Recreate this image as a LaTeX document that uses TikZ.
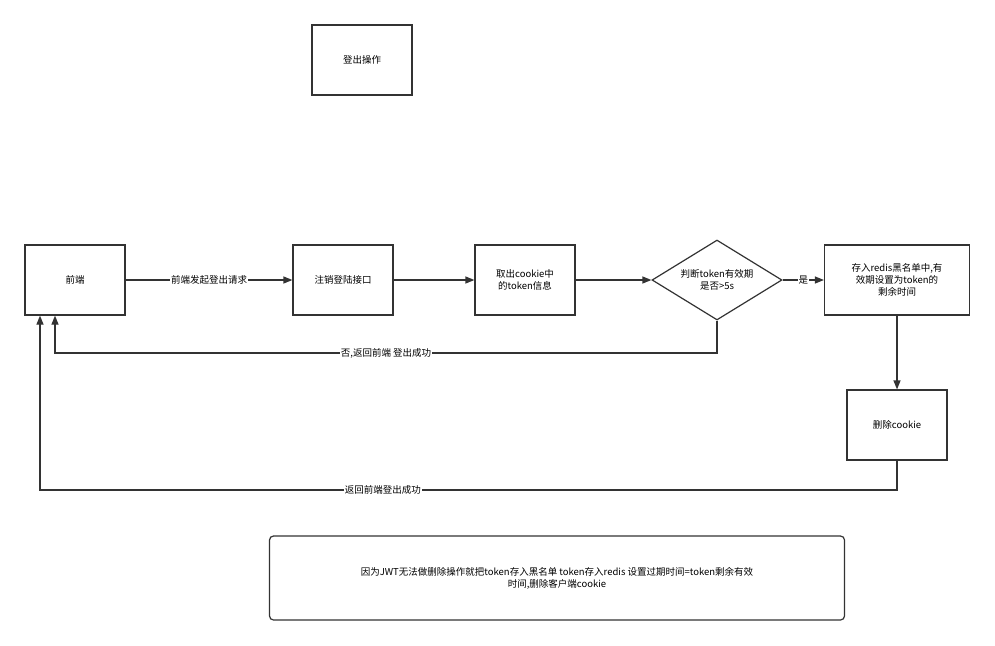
\documentclass[tikz,border=0pt]{standalone}
\usepackage{fontspec}
\setmainfont{Noto Sans CJK SC}
\usetikzlibrary{shapes.geometric,arrows.meta}
\begin{document}
\begin{tikzpicture}[x=1pt,y=-1pt,font=\fontsize{9.5}{12}\selectfont,
  box/.style={draw=black!80,line width=1.2pt,minimum width=100pt,minimum height=70pt,align=center},
  conn/.style={draw=black!80,line width=1.2pt,-{Triangle[length=9pt,width=7pt]}},
  lbl/.style={fill=white,inner sep=1pt}]
\useasboundingbox[fill=white] (0,0) rectangle (995,645);
\node[box] (logout) at (362,60) {登出操作};
\node[box] (fe) at (75,280) {前端};
\node[box] (api) at (343,280) {注销登陆接口};
\node[box] (get) at (525,280) {取出cookie中\\的token信息};
\node[draw=black!80,line width=1.2pt,diamond,aspect=1.625,minimum width=130pt,minimum height=80pt,inner sep=0pt,align=center] (dec) at (717,280) {判断token有效期\\是否>5s};
\node[box,minimum width=145pt] (store) at (897,280) {存入redis黑名单中,有\\效期设置为token的\\剩余时间};
\node[box] (del) at (897,425) {删除cookie};
\node[draw=black!80,line width=1.2pt,rounded corners=4pt,minimum width=575pt,minimum height=84pt,align=center] (note) at (557,578) {因为JWT无法做删除操作就把token存入黑名单 token存入redis 设置过期时间=token剩余有效\\时间,删除客户端cookie};
\draw[conn] (fe) -- node[lbl]{前端发起登出请求} (api);
\draw[conn] (api) -- (get);
\draw[conn] (get) -- (dec);
\draw[conn] (dec) -- node[lbl]{是} (store);
\draw[conn] (store) -- (del);
\coordinate (c1) at (717,353);
\coordinate (c2) at (55,353);
\draw[conn] (dec.south) -- (c1) -- node[lbl,pos=0.5]{否,返回前端 登出成功} (c2) -- (c2 |- fe.south);
\coordinate (d1) at (897,490);
\coordinate (d2) at (40,490);
\draw[conn] (del.south) -- (d1) -- node[lbl,pos=0.6]{返回前端登出成功} (d2) -- (d2 |- fe.south);
\end{tikzpicture}
\end{document}
